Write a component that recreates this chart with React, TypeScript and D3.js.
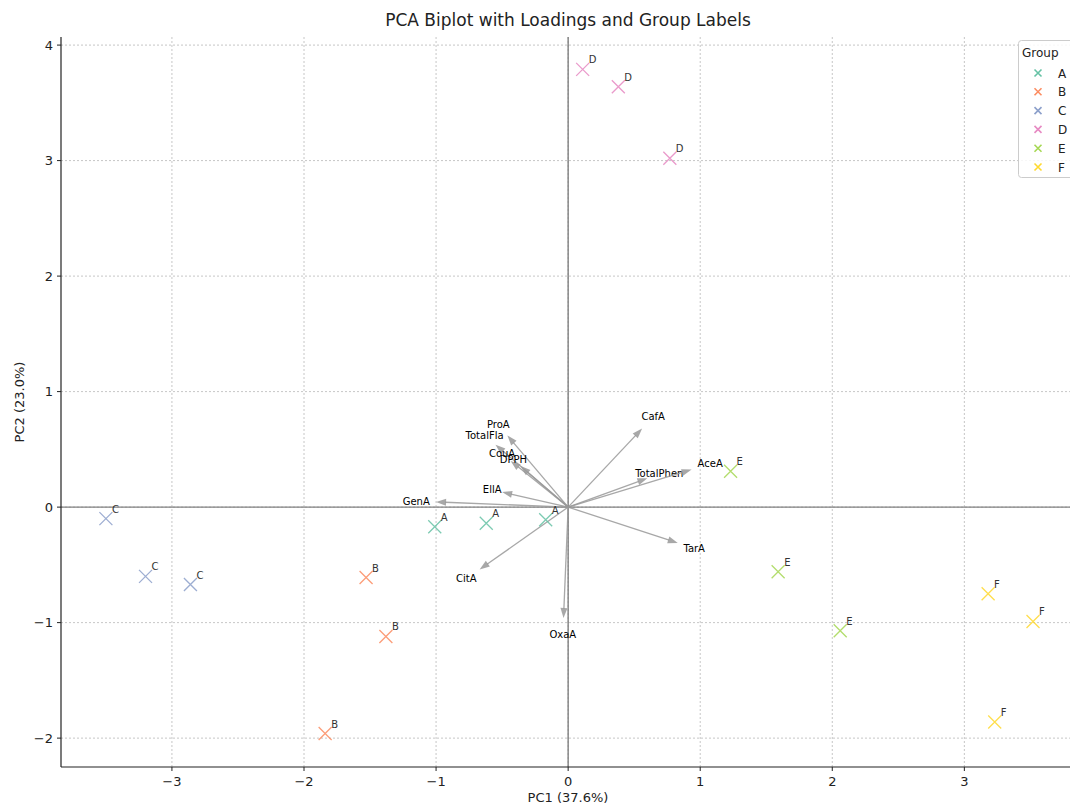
import * as d3 from "d3";

const groups = ["A", "B", "C", "D", "E", "F"];
const groupColors = ["#66c2a5", "#fc8d62", "#8da0cb", "#e78ac3", "#a6d854", "#ffd92f"];

// sample scores
const sampleGroup = ["A", "A", "A", "B", "B", "B", "C", "C", "C", "D", "D", "D", "E", "E", "E", "F", "F", "F"];
const pc1 = [-1.01, -0.62, -0.17, -1.53, -1.38, -1.84, -3.50, -3.20, -2.86, 0.11, 0.38, 0.77, 1.23, 1.59, 2.06, 3.18, 3.52, 3.23];
const pc2 = [-0.17, -0.14, -0.11, -0.61, -1.12, -1.96, -0.10, -0.60, -0.67, 3.79, 3.64, 3.02, 0.31, -0.56, -1.07, -0.75, -0.99, -1.86];

// loadings (arrow tips)
const varNames = ["CafA", "ProA", "TotalFla", "CouA", "DPPH", "EllA", "GenA", "CitA", "OxaA", "TarA", "TotalPhen", "AceA"];
const load1 = [0.56, -0.46, -0.55, -0.435, -0.36, -0.50, -1.0, -0.67, -0.035, 0.83, 0.60, 0.935];
const load2 = [0.68, 0.62, 0.54, 0.40, 0.355, 0.13, 0.045, -0.54, -0.96, -0.31, 0.25, 0.325];

const xTicks = [-3, -2, -1, 0, 1, 2, 3];
const yTicks = [-2, -1, 0, 1, 2, 3, 4];

const W = 1070;
const H = 805;
const left = 61, right = 1070, top = 37, bottom = 767;

export default function App() {
  const x = d3.scaleLinear().domain([-3.84, 3.8]).range([left, right]);
  const y = d3.scaleLinear().domain([-2.25, 4.07]).range([bottom, top]);
  const color = d3.scaleOrdinal<string, string>().domain(groups).range(groupColors);
  const font = "DejaVu Sans, sans-serif";
  const fmt = (v: number) => (v < 0 ? "\u2212" + Math.abs(v) : String(v));

  const arrowHead = (x1: number, y1: number) => {
    // triangle pointing away from origin, in pixel space
    const x0 = x(0), y0 = y(0);
    const tx = x(x1), ty = y(y1);
    const ang = Math.atan2(ty - y0, tx - x0);
    const len = 10, hw = 3.5;
    const bx = tx - len * Math.cos(ang), by = ty - len * Math.sin(ang);
    const px = -Math.sin(ang), py = Math.cos(ang);
    return `M${tx},${ty}L${bx + px * hw},${by + py * hw}L${bx - px * hw},${by - py * hw}Z`;
  };

  const xm = 6.5;

  return (
    <svg width={W} height={H} style={{ position: "absolute", left: 0, top: 0, background: "#fff" }} fontFamily={font}>
      <text x={568} y={26} textAnchor="middle" fontSize={17} fill="#222">PCA Biplot with Loadings and Group Labels</text>

      {/* grid */}
      <g stroke="#b8b8b8" strokeWidth={0.8} strokeDasharray="2,2">
        {xTicks.map(t => <line key={"gx" + t} x1={x(t)} x2={x(t)} y1={top} y2={bottom} />)}
        {yTicks.map(t => <line key={"gy" + t} x1={left} x2={right} y1={y(t)} y2={y(t)} />)}
      </g>

      {/* zero lines */}
      <g stroke="#808080" strokeWidth={1.4}>
        <line x1={x(0)} x2={x(0)} y1={top} y2={bottom} />
        <line x1={left} x2={right} y1={y(0)} y2={y(0)} />
      </g>

      {/* spines */}
      <line x1={left} x2={left} y1={top} y2={bottom} stroke="#222" strokeWidth={1.2} />
      <line x1={left} x2={right} y1={bottom} y2={bottom} stroke="#222" strokeWidth={1.2} />

      {/* ticks */}
      <g fontSize={13} fill="#222">
        {xTicks.map(t => (
          <g key={"tx" + t}>
            <line x1={x(t)} x2={x(t)} y1={bottom} y2={bottom + 4} stroke="#222" />
            <text x={x(t)} y={bottom + 19} textAnchor="middle">{fmt(t)}</text>
          </g>
        ))}
        {yTicks.map(t => (
          <g key={"ty" + t}>
            <line x1={left - 4} x2={left} y1={y(t)} y2={y(t)} stroke="#222" />
            <text x={left - 8} y={y(t) + 4.5} textAnchor="end">{fmt(t)}</text>
          </g>
        ))}
      </g>
      <text x={568} y={802} textAnchor="middle" fontSize={13} fill="#222">PC1 (37.6%)</text>
      <text transform={`translate(24,${(top + bottom) / 2}) rotate(-90)`} textAnchor="middle" fontSize={13} fill="#222">PC2 (23.0%)</text>

      {/* loadings */}
      <g>
        {varNames.map((n, i) => {
          const ang = Math.atan2(y(load2[i]) - y(0), x(load1[i]) - x(0));
          const ex = x(load1[i]) - 9 * Math.cos(ang), ey = y(load2[i]) - 9 * Math.sin(ang);
          return (
            <g key={n}>
              <line x1={x(0)} y1={y(0)} x2={ex} y2={ey} stroke="#999" strokeWidth={1.3} opacity={0.85} />
              <path d={arrowHead(load1[i], load2[i])} fill="#999" opacity={0.85} />
              <text x={x(load1[i] * 1.15)} y={y(load2[i] * 1.15) + 3.5} textAnchor="middle" fontSize={10} fill="#000">{n}</text>
            </g>
          );
        })}
      </g>

      {/* samples */}
      <g>
        {pc1.map((v, i) => {
          const cx = x(v), cy = y(pc2[i]);
          const c = color(sampleGroup[i]);
          return (
            <g key={"p" + i}>
              <path d={`M${cx - xm},${cy - xm}L${cx + xm},${cy + xm}M${cx - xm},${cy + xm}L${cx + xm},${cy - xm}`} stroke={c} strokeWidth={1.3} opacity={0.85} />
              <text x={cx + 6} y={cy - 6} fontSize={10} fill="#333">{sampleGroup[i]}</text>
            </g>
          );
        })}
      </g>

      {/* legend */}
      <g>
        <rect x={1018.5} y={40.5} width={60} height={137} rx={3} fill="#fff" fillOpacity={0.85} stroke="#ccc" />
        <text x={1022} y={57} fontSize={12} fill="#222">Group</text>
        {groups.map((g, i) => {
          const ly = 73 + i * 18.8;
          const lx = 1038, s = 3.5;
          return (
            <g key={"l" + g}>
              <path d={`M${lx - s},${ly - s}L${lx + s},${ly + s}M${lx - s},${ly + s}L${lx + s},${ly - s}`} stroke={color(g)} strokeWidth={1.6} />
              <text x={1058} y={ly + 4.5} fontSize={12} fill="#222">{g}</text>
            </g>
          );
        })}
      </g>
    </svg>
  );
}
